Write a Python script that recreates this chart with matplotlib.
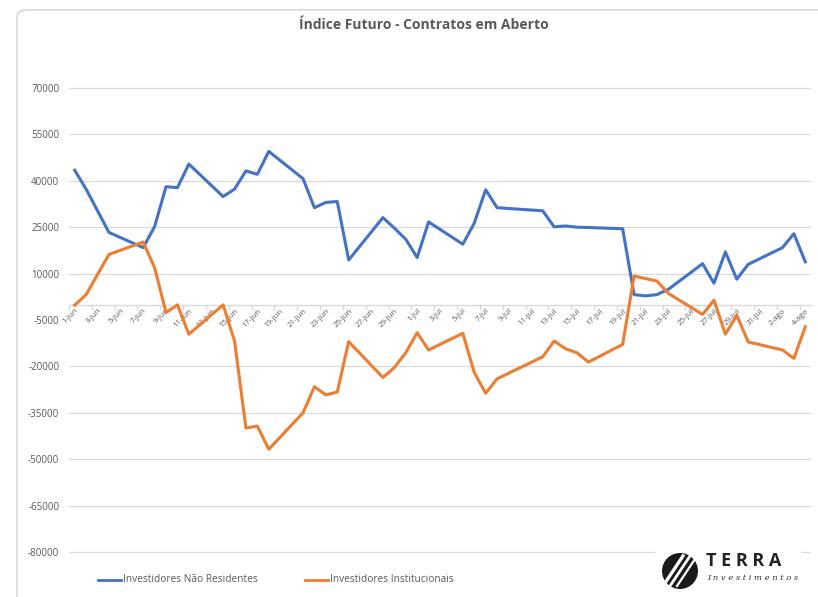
import matplotlib
matplotlib.use("Agg")
import matplotlib.pyplot as plt
from matplotlib.patches import FancyBboxPatch, Ellipse, Rectangle
import pandas as pd

# ---------------- data ----------------
dates = [
    "2021-06-01", "2021-06-02", "2021-06-04", "2021-06-07", "2021-06-08", "2021-06-09",
    "2021-06-10", "2021-06-11", "2021-06-14", "2021-06-15", "2021-06-16", "2021-06-17",
    "2021-06-18", "2021-06-21", "2021-06-22", "2021-06-23", "2021-06-24", "2021-06-25",
    "2021-06-28", "2021-06-29", "2021-06-30",
    "2021-07-01", "2021-07-02", "2021-07-05", "2021-07-06", "2021-07-07", "2021-07-08",
    "2021-07-12", "2021-07-13", "2021-07-14", "2021-07-15", "2021-07-16", "2021-07-19",
    "2021-07-20", "2021-07-21", "2021-07-22", "2021-07-23", "2021-07-26", "2021-07-27",
    "2021-07-28", "2021-07-29", "2021-07-30",
    "2021-08-02", "2021-08-03", "2021-08-04",
]
nao_residentes = [
    43400, 37300, 23300, 18400, 25200, 38100, 37800, 45400, 34900, 37300, 43200, 42100,
    49500, 40700, 31300, 33000, 33300, 14400, 28100, 24700, 21100,
    15200, 26700, 19500, 26300, 37100, 31300, 30300, 25100, 25400, 25000, 24900, 24500,
    3200, 2800, 3200, 4900, 13200, 6900, 17000, 8200, 13000,
    18400, 22900, 13800,
]
institucionais = [
    -200, 3200, 16200, 20200, 11900, -2600, -100, -9600, -100, -11800, -39900, -39300,
    -46800, -35000, -26600, -29200, -28300, -12000, -23600, -20400, -15600,
    -9100, -14700, -9300, -22000, -28700, -24000, -16900, -11800, -14300, -15600, -18600,
    -12900, 9200, 8400, 7600, 3600, -3200, 1400, -9600, -3500, -12100,
    -14700, -17400, -7200,
]
y_ticks = [70000, 55000, 40000, 25000, 10000, -5000, -20000, -35000, -50000, -65000, -80000]
x_labels = [
    "1-jun", "3-jun", "5-jun", "7-jun", "9-jun", "11-jun", "13-jun", "15-jun", "17-jun",
    "19-jun", "21-jun", "23-jun", "25-jun", "27-jun", "29-jun", "1-jul", "3-jul", "5-jul",
    "7-jul", "9-jul", "11-jul", "13-jul", "15-jul", "17-jul", "19-jul", "21-jul", "23-jul",
    "25-jul", "27-jul", "29-jul", "31-jul", "2-ago", "4-ago",
]
title = "Índice Futuro - Contratos em Aberto"
series_names = ["Investidores Não Residentes", "Investidores Institucionais"]

# ---------------- styling ----------------
W, H = 818, 597
BLUE = "#4472C4"
ORANGE = "#ED7D31"
TXT = "#595959"
GRID = "#D9D9D9"
FONT = ["Open Sans", "DejaVu Sans"]

plt.rcParams["font.family"] = FONT

def fx(x):
    return x / W

def fy(y):
    return 1 - y / H

fig = plt.figure(figsize=(W / 100, H / 100), dpi=100)
fig.patch.set_facecolor("white")

# chart border
border = FancyBboxPatch((fx(17), fy(640)), fx(830) - fx(17), fy(10) - fy(640),
                        boxstyle="round,pad=0,rounding_size=0.012",
                        transform=fig.transFigure, facecolor="none",
                        edgecolor="#D0D0D0", linewidth=1.0, zorder=-5)
fig.patches.append(border)

# axes: x from 69 to 811 px, y from 88 (70000) to 552 (-80000)
ax = fig.add_axes([fx(69), fy(553), fx(811) - fx(69), fy(87) - fy(553)])
ax.set_facecolor("none")
ax.set_zorder(1)

base = pd.Timestamp("2021-06-01")
xd = [(pd.Timestamp(d) - base).days for d in dates]

ax.plot(xd, nao_residentes, color=BLUE, lw=2.2, solid_joinstyle="round", zorder=3,
        label=series_names[0])
ax.plot(xd, institucionais, color=ORANGE, lw=2.2, solid_joinstyle="round", zorder=3,
        label=series_names[1])

ax.set_xlim(-0.5, 64.5)
ax.set_ylim(-80320, 70320)

# y axis
ax.set_yticks(y_ticks)
ax.set_yticklabels([str(v) for v in y_ticks])
ax.tick_params(axis="y", length=0, pad=7, labelsize=7, labelcolor=TXT)
ax.yaxis.grid(True, color=GRID, lw=0.9)
ax.set_axisbelow(True)
for v, gl in zip(y_ticks, ax.get_ygridlines()):
    if v == -5000:
        gl.set_visible(False)

for s in ["left", "right", "top"]:
    ax.spines[s].set_visible(False)
ax.spines["bottom"].set_position(("data", 0))
ax.spines["bottom"].set_color(GRID)
ax.spines["bottom"].set_linewidth(1.0)

# x axis: labels at day centres, tick marks at boundaries
label_pos = list(range(0, 65, 2))
ax.set_xticks(label_pos)
ax.set_xticklabels(x_labels, rotation=45, ha="right", va="top", rotation_mode="anchor")
ax.set_xticks([p - 0.5 for p in label_pos], minor=True)
ax.tick_params(axis="x", which="major", length=0, pad=2, labelsize=5.7, labelcolor=TXT)
ax.tick_params(axis="x", which="minor", length=3.5, width=1.0, color=GRID, direction="out")

# title
fig.text(fx(424), fy(25), title, ha="center", va="center", fontsize=10,
         fontweight="bold", color=TXT)

# legend (manual, Excel-like)
ly = fy(580)
fig.add_artist(plt.Line2D([fx(98), fx(121)], [ly, ly], color=BLUE, lw=2.0))
fig.text(fx(123), ly, series_names[0], ha="left", va="center", fontsize=7.3, color=TXT)
fig.add_artist(plt.Line2D([fx(305), fx(328)], [ly, ly], color=ORANGE, lw=2.0))
fig.text(fx(330), ly, series_names[1], ha="left", va="center", fontsize=7.3, color=TXT)

# logo (TERRA Investimentos) drawn in an overlay axes on top
lax = fig.add_axes([fx(655), fy(596), fx(802) - fx(655), fy(546) - fy(596)])
lax.set_zorder(5)
lax.set_xlim(655, 802)
lax.set_ylim(596, 546)
lax.set_facecolor("white")
lax.axis("off")
lax.add_patch(Rectangle((655, 546), 147, 50, facecolor="white", edgecolor="none"))
cx, cy, r = 680, 571, 18
lax.add_patch(Ellipse((cx, cy), 2 * r, 2 * r, facecolor="#1a1a1a", edgecolor="none"))
for off, wd in [(-7, 2.4), (0, 2.0), (7, 1.6)]:
    lax.plot([cx - 10 + off, cx + 10 + off], [cy + 15, cy - 15], color="white", lw=wd)
lax.text(706, 561, "T E R R A", ha="left", va="center", fontsize=13,
         fontweight="bold", color="#222222")
lax.text(707, 578, "I n v e s t i m e n t o s", ha="left", va="center",
         fontsize=6, style="italic", family=["DejaVu Serif"], color="#333333")

fig.savefig("out.png", dpi=100, facecolor="white")
